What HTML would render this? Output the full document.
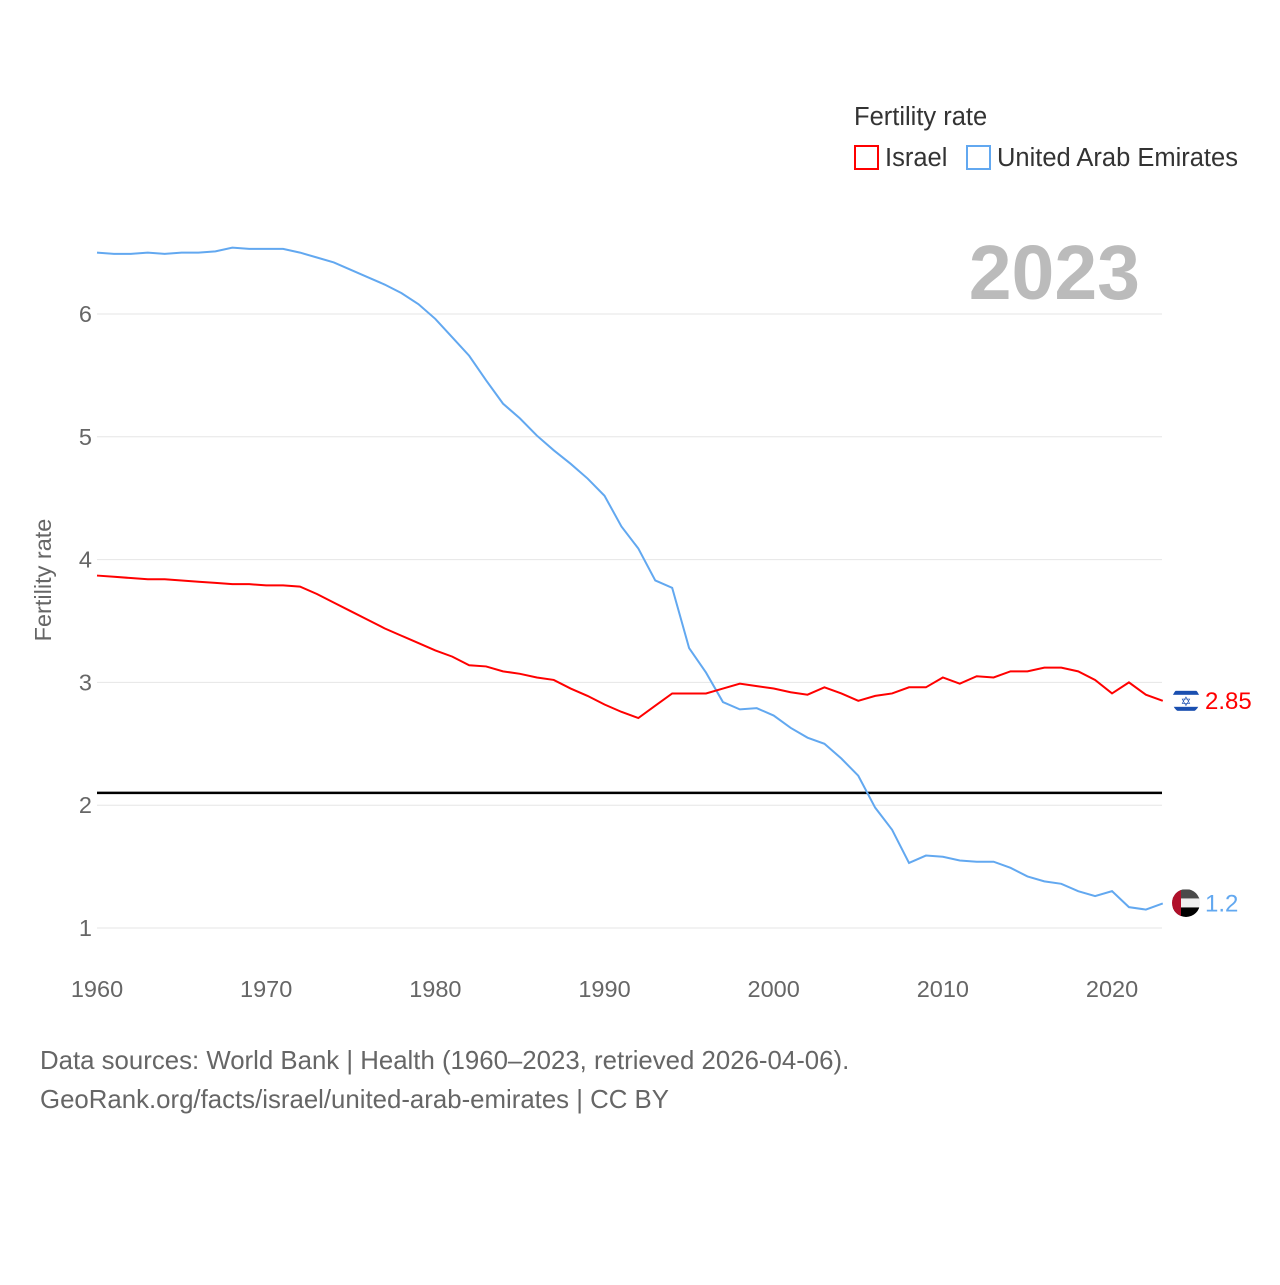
<!DOCTYPE html>
<html><head><meta charset="utf-8"><style>
body{margin:0;background:#fff;font-family:"Liberation Sans",sans-serif}
svg text{font-family:"Liberation Sans",sans-serif}
</style></head><body>
<svg width="1280" height="1280" id="c">
<defs>
<clipPath id="cf1"><circle cx="1186" cy="700" r="14"/></clipPath>
<clipPath id="cf2"><circle cx="1186" cy="903" r="14"/></clipPath>
</defs>
<text x="854" y="125" font-size="25.5" fill="#333">Fertility rate</text>
<rect x="855" y="146" width="23" height="23" fill="none" stroke="#f00" stroke-width="2"/>
<text x="885" y="166" font-size="25.5" fill="#333">Israel</text>
<rect x="967" y="146" width="23" height="23" fill="none" stroke="#62a8f0" stroke-width="2"/>
<text x="997" y="166" font-size="25.5" fill="#333">United Arab Emirates</text>
<text x="1140" y="299" font-size="77" font-weight="bold" fill="#bbb" text-anchor="end">2023</text>
<text transform="translate(51,580) rotate(-90)" font-size="23.5" fill="#666" text-anchor="middle">Fertility rate</text>
<g id="grid"></g><g id="marks"></g>
<text x="40" y="1069" font-size="25.8" fill="#666">Data sources: World Bank | Health (1960–2023, retrieved 2026-04-06).</text>
<text x="40" y="1108" font-size="25.8" fill="#666">GeoRank.org/facts/israel/united-arab-emirates | CC BY</text>
</svg>
<script>
const years=[];for(let y=1960;y<=2023;y++)years.push(y);
const israel=[3.87,3.86,3.85,3.84,3.84,3.83,3.82,3.81,3.80,3.80,3.79,3.79,3.78,3.72,3.65,3.58,3.51,3.44,3.38,3.32,3.26,3.21,3.14,3.13,3.09,3.07,3.04,3.02,2.95,2.89,2.82,2.76,2.71,2.81,2.91,2.91,2.91,2.95,2.99,2.97,2.95,2.92,2.90,2.96,2.91,2.85,2.89,2.91,2.96,2.96,3.04,2.99,3.05,3.04,3.09,3.09,3.12,3.12,3.09,3.02,2.91,3.00,2.90,2.85];
const uae=[6.50,6.49,6.49,6.50,6.49,6.50,6.50,6.51,6.54,6.53,6.53,6.53,6.50,6.46,6.42,6.36,6.30,6.24,6.17,6.08,5.96,5.81,5.66,5.46,5.27,5.15,5.01,4.89,4.78,4.66,4.52,4.27,4.09,3.83,3.77,3.28,3.08,2.84,2.78,2.79,2.73,2.63,2.55,2.50,2.38,2.24,1.98,1.80,1.53,1.59,1.58,1.55,1.54,1.54,1.49,1.42,1.38,1.36,1.30,1.26,1.30,1.17,1.15,1.20];
const yTicks=[1,2,3,4,5,6];
const xTicks=[1960,1970,1980,1990,2000,2010,2020];
const refLine=2.1;
const X=y=>97+(y-1960)*16.917, Y=v=>928-(v-1)*122.8;
const NS='http://www.w3.org/2000/svg';
function mk(t,a,p){const e=document.createElementNS(NS,t);for(const k in a)e.setAttribute(k,a[k]);p.appendChild(e);return e;}
const g=document.getElementById('grid'),m=document.getElementById('marks');
yTicks.forEach(v=>{const l=mk('line',{x1:97,x2:1162,y1:Y(v),y2:Y(v),stroke:'#e6e6e6'},g);


const t=mk('text',{x:92,y:Y(v)+8,'font-size':23.5,fill:'#666','text-anchor':'end'},g);t.textContent=v;

});
xTicks.forEach(v=>{const t=mk('text',{x:X(v),y:997,'font-size':23.5,fill:'#666','text-anchor':'middle'},g);t.textContent=v;

});
const r=mk('line',{x1:97,x2:1162,y1:Y(refLine),y2:Y(refLine),stroke:'#000','stroke-width':2.5},m);


function series(d,c,n){const p=mk('polyline',{points:d.map((v,i)=>X(years[i])+','+Y(v)).join(' '),fill:'none',stroke:c,'stroke-width':2},m);


const last=d[d.length-1];const cy=Y(last);
const fg=mk('g',{},m);


if(n=='israel'){
 mk('circle',{cx:1186,cy:cy,r:14,fill:'#fff'},fg);
 mk('rect',{x:1172,y:cy-10,width:28,height:4,fill:'#1a4fb0'},fg);
 mk('rect',{x:1172,y:cy+6,width:28,height:4,fill:'#1a4fb0'},fg);
 const s=mk('text',{x:1186,y:cy+5,'font-size':13,fill:'#1a4fb0','text-anchor':'middle'},fg);s.textContent='✡';
}else{
 mk('rect',{x:1172,y:cy-14,width:28,height:10,fill:'#4a4a4a'},fg);
 mk('rect',{x:1172,y:cy-5,width:28,height:10,fill:'#eee'},fg);
 mk('rect',{x:1172,y:cy+4,width:28,height:10,fill:'#000'},fg);
 mk('rect',{x:1172,y:cy-14,width:9,height:28,fill:'#b0102a'},fg);
 fg.setAttribute('clip-path','url(#cf2)');
}
if(n=='israel')fg.setAttribute('clip-path','url(#cf1)');
const t=mk('text',{x:1205,y:cy+8,'font-size':24,fill:c},m);t.textContent=last;

}
series(uae,'#62a8f0','uae');
series(israel,'#f00','israel');
</script>
</body></html>
